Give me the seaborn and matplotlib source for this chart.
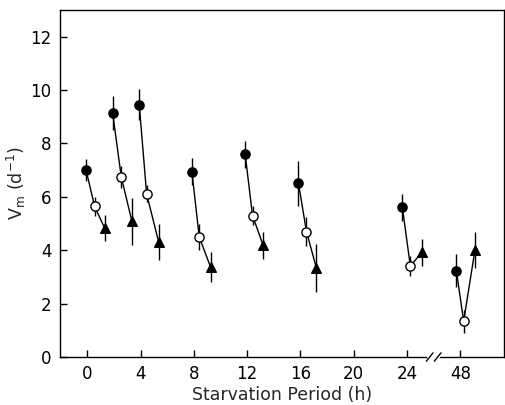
import numpy as np
import pandas as pd
import matplotlib
matplotlib.use("Agg")
import matplotlib.pyplot as plt
import seaborn as sns

# ---- data ----
groups = ["0", "2", "4", "8", "12", "16", "24", "48"]
hours_filled = [-0.1, 1.9, 3.9, 7.85, 11.85, 15.85, 23.65, 47.7]
hours_open = [0.55, 2.55, 4.45, 8.4, 12.4, 16.45, 24.25, 48.25]
hours_tri = [1.3, 3.35, 5.35, 9.25, 13.2, 17.2, 25.1, 49.1]
vm_filled = [7.01, 9.14, 9.44, 6.94, 7.59, 6.51, 5.6, 3.24]
vm_open = [5.64, 6.74, 6.11, 4.5, 5.3, 4.7, 3.4, 1.34]
vm_tri = [4.83, 5.08, 4.32, 3.37, 4.18, 3.33, 3.92, 4.01]
err_filled = [0.42, 0.64, 0.58, 0.5, 0.5, 0.85, 0.5, 0.62]
err_open = [0.35, 0.4, 0.32, 0.5, 0.35, 0.55, 0.38, 0.43]
err_tri = [0.48, 0.87, 0.68, 0.56, 0.5, 0.9, 0.5, 0.69]
xtick_labels = ["0", "4", "8", "12", "16", "20", "24", "48"]
xtick_hours = [0, 4, 8, 12, 16, 20, 24, 48]

BREAK_AT = 26.0
GAP = 20.0


def to_axis(h):
    h = np.asarray(h, dtype=float)
    return np.where(h > BREAK_AT, h - GAP, h)


rows = []
for stage, hs, vs, es in [("filled", hours_filled, vm_filled, err_filled),
                          ("open", hours_open, vm_open, err_open),
                          ("tri", hours_tri, vm_tri, err_tri)]:
    for g, h, v, e in zip(groups, hs, vs, es):
        rows.append(dict(group=g, stage=stage, hours=h, vm=v, err=e))
df = pd.DataFrame(rows)
df["pos"] = to_axis(df["hours"])
order = {"filled": 0, "open": 1, "tri": 2}
df["o"] = df["stage"].map(order)
df = df.sort_values(["group", "o"]).reset_index(drop=True)

sns.set_theme(style="ticks")
plt.rcParams["font.family"] = ["DejaVu Sans"]

fig = plt.figure(figsize=(5.06, 4.05), dpi=100)
ax = fig.add_axes([0.1186, 0.1185, 0.878, 0.857])

# error bars
ax.errorbar(df["pos"], df["vm"], yerr=df["err"], fmt="none",
            ecolor="black", elinewidth=1.0, capsize=0, zorder=2)

# connecting lines
sns.lineplot(data=df, x="pos", y="vm", units="group", estimator=None,
             sort=False, color="black", linewidth=1.0, ax=ax, zorder=3,
             legend=False)

# markers
styles = {"filled": dict(marker="o", facecolor="black", s=44),
          "open": dict(marker="o", facecolor="white", s=44),
          "tri": dict(marker="^", facecolor="black", s=48)}
for stage, st in styles.items():
    sub = df[df["stage"] == stage]
    sns.scatterplot(data=sub, x="pos", y="vm", marker=st["marker"],
                    color=st["facecolor"], edgecolor="black", linewidth=1.0,
                    s=st["s"], ax=ax, zorder=4, legend=False)

ax.set_xlim(-2.05, 31.3)
ax.set_ylim(0, 13)
ax.set_xticks(to_axis(xtick_hours))
ax.set_xticklabels(xtick_labels)
ax.set_yticks([0, 2, 4, 6, 8, 10, 12])
ax.tick_params(direction="in", length=5, width=1, labelsize=12, colors="black",
               pad=6)
for sp in ax.spines.values():
    sp.set_linewidth(1.0)
    sp.set_color("black")

ax.set_xlabel("Starvation Period (h)", fontsize=12.5, labelpad=2)
ax.set_ylabel(r"$\mathregular{V_m\ (d^{-1})}$", fontsize=12.5, labelpad=2)

# axis break marks on the x axis
bx = BREAK_AT
ax.plot([bx - 0.35, bx + 0.35], [0, 0], color="white", linewidth=3,
        transform=ax.get_xaxis_transform(), clip_on=False, zorder=5)
for dx in (-0.3, 0.3):
    ax.plot([bx + dx - 0.25, bx + dx + 0.25], [-0.012, 0.012], color="black",
            linewidth=1, transform=ax.get_xaxis_transform(), clip_on=False,
            zorder=6)

fig.savefig("out.png", dpi=100)
